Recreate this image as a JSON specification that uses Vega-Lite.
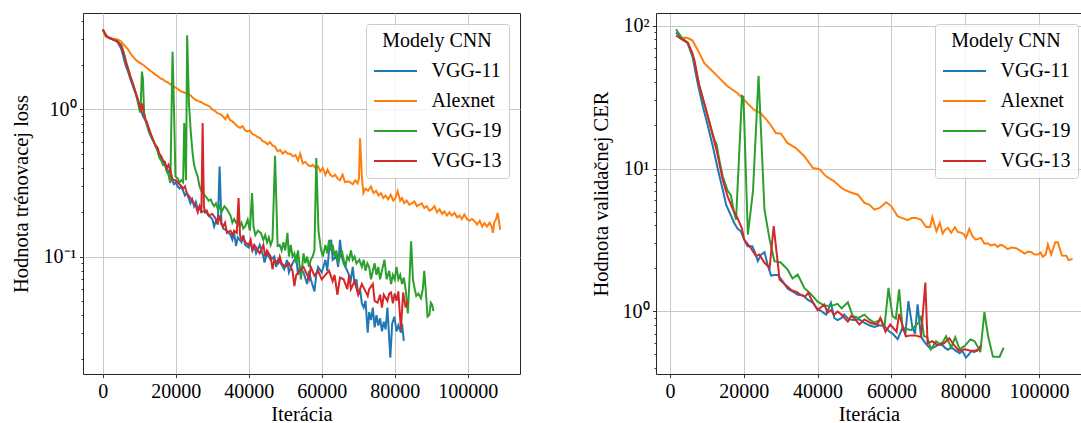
{
"$schema": "https://vega.github.io/schema/vega-lite/v6.json",
"background": "white",
"padding": {"left": 10, "top": 10, "right": 0, "bottom": 0},
"autosize": {"type": "pad"},
"spacing": 136,
"bounds": "flush",
"config": {
  "font": "Liberation Serif",
  "view": {"stroke": "#262626", "strokeWidth": 1},
  "axis": {
    "labelFont": "Liberation Serif", "labelFontSize": 20, "labelColor": "#000000",
    "titleFont": "Liberation Serif", "titleFontSize": 20.5, "titleFontWeight": "normal", "titleColor": "#000000",
    "tickColor": "#000000", "tickWidth": 0.8, "tickSize": 3.5,
    "gridColor": "#c8c8c8", "gridWidth": 1,
    "domainColor": "#262626", "domainWidth": 1,
    "labelPadding": 3.5, "labelFlush": false, "labelOverlap": false
  },
  "legend": {
    "titleFont": "Liberation Serif", "titleFontSize": 20, "titleFontWeight": "normal", "titleColor": "#000000",
    "labelFont": "Liberation Serif", "labelFontSize": 20, "labelColor": "#000000",
    "symbolSize": 400, "symbolStrokeWidth": 2, "symbolOffset": 11.5,
    "labelOffset": 25, "padding": 7, "fillColor": "rgba(255,255,255,0.8)", "strokeColor": "#cccccc", "cornerRadius": 3,
    "titleAnchor": "middle", "rowPadding": 9, "titlePadding": 9
  }
},
"datasets": {
"train": [
{"m":"VGG-11","i":0,"v":3.5},{"m":"VGG-11","i":500,"v":3.3},{"m":"VGG-11","i":1000,"v":3.15},{"m":"VGG-11","i":2000,"v":3.05},{"m":"VGG-11","i":3000,"v":2.97},{"m":"VGG-11","i":4000,"v":2.88},{"m":"VGG-11","i":5000,"v":2.6},{"m":"VGG-11","i":5500,"v":2.35},{"m":"VGG-11","i":6000,"v":2.1},{"m":"VGG-11","i":6500,"v":1.92},{"m":"VGG-11","i":7000,"v":1.78},{"m":"VGG-11","i":7500,"v":1.62},{"m":"VGG-11","i":8000,"v":1.5},{"m":"VGG-11","i":8500,"v":1.38},{"m":"VGG-11","i":9000,"v":1.28},{"m":"VGG-11","i":9500,"v":1.17},{"m":"VGG-11","i":10000,"v":1.06},{"m":"VGG-11","i":10500,"v":0.98},{"m":"VGG-11","i":11000,"v":0.9},{"m":"VGG-11","i":11500,"v":0.86},{"m":"VGG-11","i":12000,"v":0.8},{"m":"VGG-11","i":12500,"v":0.72},{"m":"VGG-11","i":13000,"v":0.67},{"m":"VGG-11","i":13500,"v":0.63},{"m":"VGG-11","i":14000,"v":0.6},{"m":"VGG-11","i":14500,"v":0.56},{"m":"VGG-11","i":15000,"v":0.53},{"m":"VGG-11","i":15500,"v":0.48},{"m":"VGG-11","i":16000,"v":0.46},{"m":"VGG-11","i":16500,"v":0.44},{"m":"VGG-11","i":17000,"v":0.42},{"m":"VGG-11","i":17500,"v":0.4},{"m":"VGG-11","i":18000,"v":0.37},{"m":"VGG-11","i":18500,"v":0.39},{"m":"VGG-11","i":19000,"v":0.33},{"m":"VGG-11","i":19500,"v":0.31},{"m":"VGG-11","i":20000,"v":0.32},{"m":"VGG-11","i":20500,"v":0.3},{"m":"VGG-11","i":21000,"v":0.29},{"m":"VGG-11","i":21500,"v":0.3},{"m":"VGG-11","i":22000,"v":0.28},{"m":"VGG-11","i":22500,"v":0.26},{"m":"VGG-11","i":23000,"v":0.27},{"m":"VGG-11","i":23500,"v":0.25},{"m":"VGG-11","i":24000,"v":0.23},{"m":"VGG-11","i":24500,"v":0.245},{"m":"VGG-11","i":25000,"v":0.22},{"m":"VGG-11","i":25500,"v":0.235},{"m":"VGG-11","i":26000,"v":0.21},{"m":"VGG-11","i":26500,"v":0.22},{"m":"VGG-11","i":27000,"v":0.2},{"m":"VGG-11","i":28000,"v":0.205},{"m":"VGG-11","i":29000,"v":0.19},{"m":"VGG-11","i":30000,"v":0.18},{"m":"VGG-11","i":30500,"v":0.16},{"m":"VGG-11","i":31000,"v":0.175},{"m":"VGG-11","i":31500,"v":0.165},{"m":"VGG-11","i":32000,"v":0.41},{"m":"VGG-11","i":32500,"v":0.17},{"m":"VGG-11","i":33000,"v":0.155},{"m":"VGG-11","i":34000,"v":0.15},{"m":"VGG-11","i":35000,"v":0.14},{"m":"VGG-11","i":35500,"v":0.13},{"m":"VGG-11","i":36000,"v":0.145},{"m":"VGG-11","i":36500,"v":0.118},{"m":"VGG-11","i":37000,"v":0.135},{"m":"VGG-11","i":38000,"v":0.125},{"m":"VGG-11","i":38500,"v":0.14},{"m":"VGG-11","i":39000,"v":0.12},{"m":"VGG-11","i":40000,"v":0.115},{"m":"VGG-11","i":40500,"v":0.125},{"m":"VGG-11","i":41000,"v":0.11},{"m":"VGG-11","i":41500,"v":0.118},{"m":"VGG-11","i":42000,"v":0.105},{"m":"VGG-11","i":43000,"v":0.12},{"m":"VGG-11","i":44000,"v":0.1},{"m":"VGG-11","i":44300,"v":0.091},{"m":"VGG-11","i":45000,"v":0.105},{"m":"VGG-11","i":46000,"v":0.095},{"m":"VGG-11","i":47000,"v":0.1},{"m":"VGG-11","i":47500,"v":0.085},{"m":"VGG-11","i":48000,"v":0.095},{"m":"VGG-11","i":49000,"v":0.088},{"m":"VGG-11","i":49700,"v":0.082},{"m":"VGG-11","i":50500,"v":0.095},{"m":"VGG-11","i":51000,"v":0.078},{"m":"VGG-11","i":52000,"v":0.09},{"m":"VGG-11","i":53000,"v":0.1},{"m":"VGG-11","i":53500,"v":0.075},{"m":"VGG-11","i":54000,"v":0.085},{"m":"VGG-11","i":55000,"v":0.078},{"m":"VGG-11","i":56000,"v":0.065},{"m":"VGG-11","i":56500,"v":0.08},{"m":"VGG-11","i":57000,"v":0.07},{"m":"VGG-11","i":58000,"v":0.058},{"m":"VGG-11","i":58500,"v":0.075},{"m":"VGG-11","i":59000,"v":0.085},{"m":"VGG-11","i":60000,"v":0.078},{"m":"VGG-11","i":61000,"v":0.095},{"m":"VGG-11","i":61500,"v":0.08},{"m":"VGG-11","i":62000,"v":0.11},{"m":"VGG-11","i":62600,"v":0.13},{"m":"VGG-11","i":63000,"v":0.095},{"m":"VGG-11","i":64000,"v":0.1},{"m":"VGG-11","i":64500,"v":0.085},{"m":"VGG-11","i":65000,"v":0.13},{"m":"VGG-11","i":65500,"v":0.1},{"m":"VGG-11","i":66000,"v":0.09},{"m":"VGG-11","i":67000,"v":0.08},{"m":"VGG-11","i":68000,"v":0.07},{"m":"VGG-11","i":68500,"v":0.085},{"m":"VGG-11","i":69000,"v":0.065},{"m":"VGG-11","i":69500,"v":0.07},{"m":"VGG-11","i":70000,"v":0.055},{"m":"VGG-11","i":70500,"v":0.06},{"m":"VGG-11","i":71000,"v":0.048},{"m":"VGG-11","i":71500,"v":0.045},{"m":"VGG-11","i":72000,"v":0.05},{"m":"VGG-11","i":72600,"v":0.0304},{"m":"VGG-11","i":73000,"v":0.042},{"m":"VGG-11","i":73500,"v":0.037},{"m":"VGG-11","i":74000,"v":0.045},{"m":"VGG-11","i":74500,"v":0.033},{"m":"VGG-11","i":75000,"v":0.04},{"m":"VGG-11","i":75500,"v":0.034},{"m":"VGG-11","i":76000,"v":0.038},{"m":"VGG-11","i":76500,"v":0.031},{"m":"VGG-11","i":77000,"v":0.036},{"m":"VGG-11","i":77500,"v":0.032},{"m":"VGG-11","i":78000,"v":0.045},{"m":"VGG-11","i":78800,"v":0.0205},{"m":"VGG-11","i":79300,"v":0.035},{"m":"VGG-11","i":79900,"v":0.039},{"m":"VGG-11","i":80500,"v":0.031},{"m":"VGG-11","i":81000,"v":0.034},{"m":"VGG-11","i":81700,"v":0.0304},{"m":"VGG-11","i":82000,"v":0.035},{"m":"VGG-11","i":82500,"v":0.0267},
{"m":"Alexnet","i":0,"v":3.5},{"m":"Alexnet","i":800,"v":3.13},{"m":"Alexnet","i":2000,"v":3.05},{"m":"Alexnet","i":3000,"v":3.02},{"m":"Alexnet","i":4000,"v":3.0},{"m":"Alexnet","i":5000,"v":2.9},{"m":"Alexnet","i":5500,"v":2.8},{"m":"Alexnet","i":6000,"v":2.7},{"m":"Alexnet","i":6800,"v":2.58},{"m":"Alexnet","i":7500,"v":2.42},{"m":"Alexnet","i":8200,"v":2.3},{"m":"Alexnet","i":9000,"v":2.18},{"m":"Alexnet","i":9800,"v":2.1},{"m":"Alexnet","i":10500,"v":2.05},{"m":"Alexnet","i":11200,"v":2.0},{"m":"Alexnet","i":12000,"v":1.92},{"m":"Alexnet","i":12700,"v":1.86},{"m":"Alexnet","i":13500,"v":1.8},{"m":"Alexnet","i":14200,"v":1.74},{"m":"Alexnet","i":15000,"v":1.69},{"m":"Alexnet","i":15800,"v":1.63},{"m":"Alexnet","i":16500,"v":1.6},{"m":"Alexnet","i":17200,"v":1.55},{"m":"Alexnet","i":18000,"v":1.52},{"m":"Alexnet","i":18700,"v":1.47},{"m":"Alexnet","i":19500,"v":1.43},{"m":"Alexnet","i":20200,"v":1.4},{"m":"Alexnet","i":21000,"v":1.35},{"m":"Alexnet","i":21700,"v":1.32},{"m":"Alexnet","i":22500,"v":1.3},{"m":"Alexnet","i":23200,"v":1.29},{"m":"Alexnet","i":24000,"v":1.25},{"m":"Alexnet","i":24700,"v":1.2},{"m":"Alexnet","i":25500,"v":1.16},{"m":"Alexnet","i":26200,"v":1.14},{"m":"Alexnet","i":27000,"v":1.12},{"m":"Alexnet","i":27700,"v":1.09},{"m":"Alexnet","i":28500,"v":1.07},{"m":"Alexnet","i":29200,"v":1.05},{"m":"Alexnet","i":30000,"v":1.0},{"m":"Alexnet","i":30700,"v":0.98},{"m":"Alexnet","i":31400,"v":0.944},{"m":"Alexnet","i":32200,"v":0.93},{"m":"Alexnet","i":32900,"v":0.9},{"m":"Alexnet","i":33600,"v":0.86},{"m":"Alexnet","i":34200,"v":0.92},{"m":"Alexnet","i":34800,"v":0.85},{"m":"Alexnet","i":35500,"v":0.83},{"m":"Alexnet","i":36200,"v":0.8},{"m":"Alexnet","i":36900,"v":0.767},{"m":"Alexnet","i":37600,"v":0.75},{"m":"Alexnet","i":38300,"v":0.77},{"m":"Alexnet","i":39000,"v":0.72},{"m":"Alexnet","i":39600,"v":0.709},{"m":"Alexnet","i":40300,"v":0.72},{"m":"Alexnet","i":41000,"v":0.68},{"m":"Alexnet","i":41700,"v":0.67},{"m":"Alexnet","i":42400,"v":0.65},{"m":"Alexnet","i":43100,"v":0.64},{"m":"Alexnet","i":43800,"v":0.61},{"m":"Alexnet","i":44500,"v":0.6},{"m":"Alexnet","i":45200,"v":0.58},{"m":"Alexnet","i":45800,"v":0.6},{"m":"Alexnet","i":46500,"v":0.57},{"m":"Alexnet","i":47200,"v":0.56},{"m":"Alexnet","i":47900,"v":0.52},{"m":"Alexnet","i":48600,"v":0.53},{"m":"Alexnet","i":49300,"v":0.5},{"m":"Alexnet","i":50000,"v":0.52},{"m":"Alexnet","i":50700,"v":0.5},{"m":"Alexnet","i":51400,"v":0.5},{"m":"Alexnet","i":52100,"v":0.48},{"m":"Alexnet","i":52800,"v":0.49},{"m":"Alexnet","i":53500,"v":0.45},{"m":"Alexnet","i":54100,"v":0.5},{"m":"Alexnet","i":54800,"v":0.43},{"m":"Alexnet","i":55500,"v":0.44},{"m":"Alexnet","i":56200,"v":0.42},{"m":"Alexnet","i":56900,"v":0.41},{"m":"Alexnet","i":57600,"v":0.42},{"m":"Alexnet","i":58300,"v":0.4},{"m":"Alexnet","i":59000,"v":0.41},{"m":"Alexnet","i":59600,"v":0.38},{"m":"Alexnet","i":60300,"v":0.4},{"m":"Alexnet","i":61000,"v":0.36},{"m":"Alexnet","i":61600,"v":0.39},{"m":"Alexnet","i":62300,"v":0.36},{"m":"Alexnet","i":63000,"v":0.35},{"m":"Alexnet","i":63700,"v":0.36},{"m":"Alexnet","i":64300,"v":0.34},{"m":"Alexnet","i":65000,"v":0.33},{"m":"Alexnet","i":65700,"v":0.36},{"m":"Alexnet","i":66400,"v":0.32},{"m":"Alexnet","i":67100,"v":0.325},{"m":"Alexnet","i":67800,"v":0.32},{"m":"Alexnet","i":68500,"v":0.31},{"m":"Alexnet","i":69200,"v":0.33},{"m":"Alexnet","i":69800,"v":0.315},{"m":"Alexnet","i":70200,"v":0.34},{"m":"Alexnet","i":70500,"v":0.638},{"m":"Alexnet","i":71000,"v":0.35},{"m":"Alexnet","i":71400,"v":0.27},{"m":"Alexnet","i":72000,"v":0.29},{"m":"Alexnet","i":72700,"v":0.28},{"m":"Alexnet","i":73500,"v":0.3},{"m":"Alexnet","i":74200,"v":0.27},{"m":"Alexnet","i":74900,"v":0.28},{"m":"Alexnet","i":75600,"v":0.26},{"m":"Alexnet","i":76200,"v":0.27},{"m":"Alexnet","i":76900,"v":0.25},{"m":"Alexnet","i":77500,"v":0.26},{"m":"Alexnet","i":78200,"v":0.245},{"m":"Alexnet","i":78900,"v":0.263},{"m":"Alexnet","i":79600,"v":0.24},{"m":"Alexnet","i":80200,"v":0.25},{"m":"Alexnet","i":80800,"v":0.278},{"m":"Alexnet","i":81500,"v":0.24},{"m":"Alexnet","i":82000,"v":0.25},{"m":"Alexnet","i":82600,"v":0.231},{"m":"Alexnet","i":83300,"v":0.24},{"m":"Alexnet","i":84000,"v":0.225},{"m":"Alexnet","i":84700,"v":0.23},{"m":"Alexnet","i":85400,"v":0.237},{"m":"Alexnet","i":86100,"v":0.22},{"m":"Alexnet","i":86700,"v":0.225},{"m":"Alexnet","i":87400,"v":0.23},{"m":"Alexnet","i":88100,"v":0.214},{"m":"Alexnet","i":88800,"v":0.22},{"m":"Alexnet","i":89500,"v":0.205},{"m":"Alexnet","i":90200,"v":0.21},{"m":"Alexnet","i":90900,"v":0.22},{"m":"Alexnet","i":91600,"v":0.2},{"m":"Alexnet","i":92300,"v":0.21},{"m":"Alexnet","i":93000,"v":0.195},{"m":"Alexnet","i":93600,"v":0.203},{"m":"Alexnet","i":94300,"v":0.19},{"m":"Alexnet","i":95000,"v":0.2},{"m":"Alexnet","i":95700,"v":0.19},{"m":"Alexnet","i":96400,"v":0.198},{"m":"Alexnet","i":97100,"v":0.185},{"m":"Alexnet","i":97800,"v":0.19},{"m":"Alexnet","i":98400,"v":0.18},{"m":"Alexnet","i":99100,"v":0.193},{"m":"Alexnet","i":99800,"v":0.18},{"m":"Alexnet","i":100500,"v":0.175},{"m":"Alexnet","i":101200,"v":0.18},{"m":"Alexnet","i":101900,"v":0.174},{"m":"Alexnet","i":102600,"v":0.165},{"m":"Alexnet","i":103300,"v":0.175},{"m":"Alexnet","i":104000,"v":0.16},{"m":"Alexnet","i":104600,"v":0.169},{"m":"Alexnet","i":105300,"v":0.16},{"m":"Alexnet","i":106000,"v":0.17},{"m":"Alexnet","i":106600,"v":0.16},{"m":"Alexnet","i":106900,"v":0.145},{"m":"Alexnet","i":107300,"v":0.17},{"m":"Alexnet","i":107800,"v":0.18},{"m":"Alexnet","i":108200,"v":0.198},{"m":"Alexnet","i":108600,"v":0.175},{"m":"Alexnet","i":108900,"v":0.152},
{"m":"VGG-19","i":0,"v":3.5},{"m":"VGG-19","i":1000,"v":3.15},{"m":"VGG-19","i":2000,"v":3.05},{"m":"VGG-19","i":3000,"v":2.98},{"m":"VGG-19","i":4000,"v":2.92},{"m":"VGG-19","i":5000,"v":2.75},{"m":"VGG-19","i":5500,"v":2.55},{"m":"VGG-19","i":6000,"v":2.3},{"m":"VGG-19","i":6500,"v":2.05},{"m":"VGG-19","i":7000,"v":1.88},{"m":"VGG-19","i":7500,"v":1.7},{"m":"VGG-19","i":8000,"v":1.56},{"m":"VGG-19","i":8500,"v":1.43},{"m":"VGG-19","i":9000,"v":1.3},{"m":"VGG-19","i":9500,"v":1.15},{"m":"VGG-19","i":10000,"v":1.0},{"m":"VGG-19","i":10300,"v":0.95},{"m":"VGG-19","i":10700,"v":1.81},{"m":"VGG-19","i":11000,"v":1.6},{"m":"VGG-19","i":11300,"v":0.95},{"m":"VGG-19","i":11700,"v":0.85},{"m":"VGG-19","i":12000,"v":0.8},{"m":"VGG-19","i":12500,"v":0.74},{"m":"VGG-19","i":13000,"v":0.68},{"m":"VGG-19","i":13500,"v":0.64},{"m":"VGG-19","i":14000,"v":0.6},{"m":"VGG-19","i":14500,"v":0.56},{"m":"VGG-19","i":15000,"v":0.52},{"m":"VGG-19","i":15500,"v":0.47},{"m":"VGG-19","i":16000,"v":0.45},{"m":"VGG-19","i":16500,"v":0.42},{"m":"VGG-19","i":17000,"v":0.42},{"m":"VGG-19","i":17500,"v":0.38},{"m":"VGG-19","i":18000,"v":0.36},{"m":"VGG-19","i":18500,"v":0.316},{"m":"VGG-19","i":19100,"v":2.47},{"m":"VGG-19","i":19500,"v":1.0},{"m":"VGG-19","i":19900,"v":0.35},{"m":"VGG-19","i":20500,"v":0.34},{"m":"VGG-19","i":21000,"v":0.32},{"m":"VGG-19","i":21500,"v":0.33},{"m":"VGG-19","i":22000,"v":0.32},{"m":"VGG-19","i":22300,"v":0.81},{"m":"VGG-19","i":22800,"v":0.33},{"m":"VGG-19","i":23100,"v":3.2},{"m":"VGG-19","i":23600,"v":1.1},{"m":"VGG-19","i":24100,"v":0.7},{"m":"VGG-19","i":24600,"v":0.505},{"m":"VGG-19","i":25000,"v":0.42},{"m":"VGG-19","i":25500,"v":0.38},{"m":"VGG-19","i":26000,"v":0.35},{"m":"VGG-19","i":26500,"v":0.3},{"m":"VGG-19","i":27000,"v":0.28},{"m":"VGG-19","i":27500,"v":0.27},{"m":"VGG-19","i":28000,"v":0.26},{"m":"VGG-19","i":28500,"v":0.25},{"m":"VGG-19","i":29000,"v":0.24},{"m":"VGG-19","i":29600,"v":0.244},{"m":"VGG-19","i":30000,"v":0.23},{"m":"VGG-19","i":30500,"v":0.22},{"m":"VGG-19","i":31000,"v":0.23},{"m":"VGG-19","i":31500,"v":0.21},{"m":"VGG-19","i":32000,"v":0.22},{"m":"VGG-19","i":32500,"v":0.2},{"m":"VGG-19","i":33300,"v":0.22},{"m":"VGG-19","i":34000,"v":0.21},{"m":"VGG-19","i":34500,"v":0.2},{"m":"VGG-19","i":35000,"v":0.19},{"m":"VGG-19","i":35500,"v":0.17},{"m":"VGG-19","i":36000,"v":0.18},{"m":"VGG-19","i":36500,"v":0.17},{"m":"VGG-19","i":37000,"v":0.175},{"m":"VGG-19","i":37500,"v":0.16},{"m":"VGG-19","i":38000,"v":0.17},{"m":"VGG-19","i":38500,"v":0.155},{"m":"VGG-19","i":39000,"v":0.16},{"m":"VGG-19","i":39700,"v":0.178},{"m":"VGG-19","i":40300,"v":0.15},{"m":"VGG-19","i":40900,"v":0.27},{"m":"VGG-19","i":41300,"v":0.16},{"m":"VGG-19","i":41800,"v":0.14},{"m":"VGG-19","i":42500,"v":0.15},{"m":"VGG-19","i":43300,"v":0.145},{"m":"VGG-19","i":44000,"v":0.13},{"m":"VGG-19","i":44500,"v":0.14},{"m":"VGG-19","i":45000,"v":0.125},{"m":"VGG-19","i":45500,"v":0.135},{"m":"VGG-19","i":46000,"v":0.12},{"m":"VGG-19","i":46500,"v":0.13},{"m":"VGG-19","i":47200,"v":0.485},{"m":"VGG-19","i":47900,"v":0.118},{"m":"VGG-19","i":48500,"v":0.12},{"m":"VGG-19","i":49000,"v":0.11},{"m":"VGG-19","i":49500,"v":0.125},{"m":"VGG-19","i":50000,"v":0.11},{"m":"VGG-19","i":50600,"v":0.145},{"m":"VGG-19","i":51000,"v":0.1},{"m":"VGG-19","i":51500,"v":0.12},{"m":"VGG-19","i":52000,"v":0.1},{"m":"VGG-19","i":52500,"v":0.105},{"m":"VGG-19","i":53000,"v":0.09},{"m":"VGG-19","i":53500,"v":0.11},{"m":"VGG-19","i":54300,"v":0.07},{"m":"VGG-19","i":55000,"v":0.105},{"m":"VGG-19","i":55500,"v":0.09},{"m":"VGG-19","i":56000,"v":0.1},{"m":"VGG-19","i":56500,"v":0.085},{"m":"VGG-19","i":57000,"v":0.095},{"m":"VGG-19","i":57500,"v":0.1},{"m":"VGG-19","i":58000,"v":0.11},{"m":"VGG-19","i":58500,"v":0.467},{"m":"VGG-19","i":59100,"v":0.15},{"m":"VGG-19","i":59800,"v":0.111},{"m":"VGG-19","i":60300,"v":0.1},{"m":"VGG-19","i":61000,"v":0.12},{"m":"VGG-19","i":61500,"v":0.105},{"m":"VGG-19","i":62000,"v":0.13},{"m":"VGG-19","i":62500,"v":0.11},{"m":"VGG-19","i":63000,"v":0.12},{"m":"VGG-19","i":63500,"v":0.1},{"m":"VGG-19","i":64000,"v":0.11},{"m":"VGG-19","i":64500,"v":0.09},{"m":"VGG-19","i":65000,"v":0.1},{"m":"VGG-19","i":65500,"v":0.11},{"m":"VGG-19","i":66000,"v":0.095},{"m":"VGG-19","i":66500,"v":0.085},{"m":"VGG-19","i":67000,"v":0.1},{"m":"VGG-19","i":67500,"v":0.095},{"m":"VGG-19","i":68000,"v":0.11},{"m":"VGG-19","i":68500,"v":0.095},{"m":"VGG-19","i":69000,"v":0.1},{"m":"VGG-19","i":69500,"v":0.09},{"m":"VGG-19","i":70300,"v":0.095},{"m":"VGG-19","i":71000,"v":0.085},{"m":"VGG-19","i":71500,"v":0.095},{"m":"VGG-19","i":72000,"v":0.08},{"m":"VGG-19","i":72500,"v":0.09},{"m":"VGG-19","i":73000,"v":0.085},{"m":"VGG-19","i":73500,"v":0.07},{"m":"VGG-19","i":74000,"v":0.08},{"m":"VGG-19","i":74500,"v":0.09},{"m":"VGG-19","i":75000,"v":0.075},{"m":"VGG-19","i":75500,"v":0.085},{"m":"VGG-19","i":76000,"v":0.07},{"m":"VGG-19","i":76500,"v":0.08},{"m":"VGG-19","i":77200,"v":0.095},{"m":"VGG-19","i":77800,"v":0.07},{"m":"VGG-19","i":78500,"v":0.08},{"m":"VGG-19","i":79000,"v":0.065},{"m":"VGG-19","i":79500,"v":0.075},{"m":"VGG-19","i":80000,"v":0.07},{"m":"VGG-19","i":80500,"v":0.085},{"m":"VGG-19","i":81000,"v":0.07},{"m":"VGG-19","i":81500,"v":0.075},{"m":"VGG-19","i":82000,"v":0.065},{"m":"VGG-19","i":82500,"v":0.072},{"m":"VGG-19","i":83000,"v":0.06},{"m":"VGG-19","i":83600,"v":0.041},{"m":"VGG-19","i":84000,"v":0.065},{"m":"VGG-19","i":84500,"v":0.127},{"m":"VGG-19","i":85000,"v":0.07},{"m":"VGG-19","i":85500,"v":0.06},{"m":"VGG-19","i":85900,"v":0.054},{"m":"VGG-19","i":86500,"v":0.056},{"m":"VGG-19","i":87200,"v":0.052},{"m":"VGG-19","i":87700,"v":0.06},{"m":"VGG-19","i":88100,"v":0.08},{"m":"VGG-19","i":88600,"v":0.055},{"m":"VGG-19","i":89000,"v":0.039},{"m":"VGG-19","i":89500,"v":0.04},{"m":"VGG-19","i":89900,"v":0.0485},{"m":"VGG-19","i":90300,"v":0.047},{"m":"VGG-19","i":90600,"v":0.0426},
{"m":"VGG-13","i":0,"v":3.5},{"m":"VGG-13","i":500,"v":3.3},{"m":"VGG-13","i":1000,"v":3.15},{"m":"VGG-13","i":2000,"v":3.05},{"m":"VGG-13","i":3000,"v":2.98},{"m":"VGG-13","i":4000,"v":2.9},{"m":"VGG-13","i":5000,"v":2.72},{"m":"VGG-13","i":5500,"v":2.5},{"m":"VGG-13","i":6000,"v":2.25},{"m":"VGG-13","i":6500,"v":2.02},{"m":"VGG-13","i":7000,"v":1.85},{"m":"VGG-13","i":7500,"v":1.68},{"m":"VGG-13","i":8000,"v":1.55},{"m":"VGG-13","i":8500,"v":1.42},{"m":"VGG-13","i":9000,"v":1.3},{"m":"VGG-13","i":9500,"v":1.2},{"m":"VGG-13","i":10000,"v":1.08},{"m":"VGG-13","i":10500,"v":1.0},{"m":"VGG-13","i":10800,"v":1.1},{"m":"VGG-13","i":11200,"v":0.95},{"m":"VGG-13","i":11700,"v":0.85},{"m":"VGG-13","i":12000,"v":0.83},{"m":"VGG-13","i":12500,"v":0.76},{"m":"VGG-13","i":13000,"v":0.7},{"m":"VGG-13","i":13500,"v":0.65},{"m":"VGG-13","i":14000,"v":0.6},{"m":"VGG-13","i":14500,"v":0.57},{"m":"VGG-13","i":15000,"v":0.55},{"m":"VGG-13","i":15500,"v":0.5},{"m":"VGG-13","i":16000,"v":0.48},{"m":"VGG-13","i":16500,"v":0.45},{"m":"VGG-13","i":17000,"v":0.44},{"m":"VGG-13","i":17500,"v":0.4},{"m":"VGG-13","i":18000,"v":0.42},{"m":"VGG-13","i":18500,"v":0.38},{"m":"VGG-13","i":19000,"v":0.34},{"m":"VGG-13","i":19500,"v":0.33},{"m":"VGG-13","i":20000,"v":0.33},{"m":"VGG-13","i":20500,"v":0.32},{"m":"VGG-13","i":21000,"v":0.31},{"m":"VGG-13","i":21500,"v":0.3},{"m":"VGG-13","i":22000,"v":0.29},{"m":"VGG-13","i":22500,"v":0.3},{"m":"VGG-13","i":23000,"v":0.27},{"m":"VGG-13","i":23500,"v":0.26},{"m":"VGG-13","i":24000,"v":0.25},{"m":"VGG-13","i":24500,"v":0.24},{"m":"VGG-13","i":25000,"v":0.23},{"m":"VGG-13","i":25500,"v":0.22},{"m":"VGG-13","i":26000,"v":0.2},{"m":"VGG-13","i":26500,"v":0.22},{"m":"VGG-13","i":27000,"v":0.2},{"m":"VGG-13","i":27350,"v":0.81},{"m":"VGG-13","i":27700,"v":0.22},{"m":"VGG-13","i":28000,"v":0.2},{"m":"VGG-13","i":28500,"v":0.205},{"m":"VGG-13","i":29000,"v":0.19},{"m":"VGG-13","i":30000,"v":0.195},{"m":"VGG-13","i":31000,"v":0.18},{"m":"VGG-13","i":31500,"v":0.17},{"m":"VGG-13","i":32000,"v":0.19},{"m":"VGG-13","i":32500,"v":0.165},{"m":"VGG-13","i":33000,"v":0.16},{"m":"VGG-13","i":33500,"v":0.17},{"m":"VGG-13","i":34000,"v":0.145},{"m":"VGG-13","i":35000,"v":0.15},{"m":"VGG-13","i":35500,"v":0.14},{"m":"VGG-13","i":36000,"v":0.15},{"m":"VGG-13","i":36700,"v":0.145},{"m":"VGG-13","i":37200,"v":0.25},{"m":"VGG-13","i":37600,"v":0.14},{"m":"VGG-13","i":38000,"v":0.13},{"m":"VGG-13","i":38500,"v":0.135},{"m":"VGG-13","i":39000,"v":0.125},{"m":"VGG-13","i":40000,"v":0.12},{"m":"VGG-13","i":40500,"v":0.13},{"m":"VGG-13","i":41000,"v":0.111},{"m":"VGG-13","i":41500,"v":0.12},{"m":"VGG-13","i":42000,"v":0.115},{"m":"VGG-13","i":43000,"v":0.105},{"m":"VGG-13","i":44000,"v":0.12},{"m":"VGG-13","i":44500,"v":0.1},{"m":"VGG-13","i":45000,"v":0.11},{"m":"VGG-13","i":46000,"v":0.1},{"m":"VGG-13","i":46500,"v":0.082},{"m":"VGG-13","i":47000,"v":0.095},{"m":"VGG-13","i":48000,"v":0.09},{"m":"VGG-13","i":48500,"v":0.1},{"m":"VGG-13","i":49000,"v":0.09},{"m":"VGG-13","i":50000,"v":0.085},{"m":"VGG-13","i":51000,"v":0.09},{"m":"VGG-13","i":52000,"v":0.08},{"m":"VGG-13","i":52500,"v":0.063},{"m":"VGG-13","i":53000,"v":0.075},{"m":"VGG-13","i":54000,"v":0.08},{"m":"VGG-13","i":55000,"v":0.085},{"m":"VGG-13","i":56000,"v":0.075},{"m":"VGG-13","i":56500,"v":0.07},{"m":"VGG-13","i":57000,"v":0.085},{"m":"VGG-13","i":58000,"v":0.074},{"m":"VGG-13","i":59000,"v":0.08},{"m":"VGG-13","i":60000,"v":0.07},{"m":"VGG-13","i":61000,"v":0.075},{"m":"VGG-13","i":62000,"v":0.08},{"m":"VGG-13","i":63000,"v":0.068},{"m":"VGG-13","i":63500,"v":0.075},{"m":"VGG-13","i":64300,"v":0.055},{"m":"VGG-13","i":65000,"v":0.072},{"m":"VGG-13","i":66000,"v":0.07},{"m":"VGG-13","i":67000,"v":0.06},{"m":"VGG-13","i":67500,"v":0.075},{"m":"VGG-13","i":68000,"v":0.06},{"m":"VGG-13","i":69000,"v":0.068},{"m":"VGG-13","i":70000,"v":0.055},{"m":"VGG-13","i":70500,"v":0.06},{"m":"VGG-13","i":71000,"v":0.065},{"m":"VGG-13","i":72000,"v":0.058},{"m":"VGG-13","i":72600,"v":0.054},{"m":"VGG-13","i":73000,"v":0.06},{"m":"VGG-13","i":74000,"v":0.065},{"m":"VGG-13","i":74500,"v":0.05},{"m":"VGG-13","i":75300,"v":0.0485},{"m":"VGG-13","i":76000,"v":0.055},{"m":"VGG-13","i":76500,"v":0.045},{"m":"VGG-13","i":77000,"v":0.055},{"m":"VGG-13","i":78000,"v":0.05},{"m":"VGG-13","i":78500,"v":0.056},{"m":"VGG-13","i":79000,"v":0.057},{"m":"VGG-13","i":79500,"v":0.048},{"m":"VGG-13","i":80000,"v":0.056},{"m":"VGG-13","i":80500,"v":0.05},{"m":"VGG-13","i":81000,"v":0.058},{"m":"VGG-13","i":81700,"v":0.032},{"m":"VGG-13","i":82300,"v":0.057},{"m":"VGG-13","i":83000,"v":0.045},{"m":"VGG-13","i":83600,"v":0.05}
],
"val": [
{"m":"VGG-11","i":1630,"v":89.4},{"m":"VGG-11","i":3200,"v":82},{"m":"VGG-11","i":4800,"v":75.2},{"m":"VGG-11","i":6100,"v":60.7},{"m":"VGG-11","i":7500,"v":39.5},{"m":"VGG-11","i":8900,"v":27.2},{"m":"VGG-11","i":10300,"v":19.7},{"m":"VGG-11","i":11600,"v":14.3},{"m":"VGG-11","i":13000,"v":9.81},{"m":"VGG-11","i":14300,"v":7.11},{"m":"VGG-11","i":15200,"v":5.59},{"m":"VGG-11","i":16500,"v":4.7},{"m":"VGG-11","i":17400,"v":4.16},{"m":"VGG-11","i":18300,"v":3.8},{"m":"VGG-11","i":19200,"v":3.64},{"m":"VGG-11","i":20100,"v":3.2},{"m":"VGG-11","i":21000,"v":2.86},{"m":"VGG-11","i":22300,"v":2.86},{"m":"VGG-11","i":23000,"v":2.6},{"m":"VGG-11","i":23800,"v":2.25},{"m":"VGG-11","i":24700,"v":2.5},{"m":"VGG-11","i":25600,"v":2.6},{"m":"VGG-11","i":26500,"v":2.1},{"m":"VGG-11","i":27400,"v":1.78},{"m":"VGG-11","i":28300,"v":1.8},{"m":"VGG-11","i":29200,"v":1.8},{"m":"VGG-11","i":30500,"v":1.63},{"m":"VGG-11","i":31900,"v":1.44},{"m":"VGG-11","i":33200,"v":1.38},{"m":"VGG-11","i":34600,"v":1.31},{"m":"VGG-11","i":36000,"v":1.3},{"m":"VGG-11","i":37300,"v":1.21},{"m":"VGG-11","i":38700,"v":1.15},{"m":"VGG-11","i":40000,"v":1.04},{"m":"VGG-11","i":41100,"v":1.0},{"m":"VGG-11","i":42300,"v":0.95},{"m":"VGG-11","i":43600,"v":1.15},{"m":"VGG-11","i":44500,"v":0.9},{"m":"VGG-11","i":45400,"v":0.87},{"m":"VGG-11","i":46500,"v":0.9},{"m":"VGG-11","i":47200,"v":0.95},{"m":"VGG-11","i":48500,"v":0.88},{"m":"VGG-11","i":49900,"v":0.87},{"m":"VGG-11","i":51300,"v":0.88},{"m":"VGG-11","i":52700,"v":0.83},{"m":"VGG-11","i":54000,"v":0.8},{"m":"VGG-11","i":55400,"v":0.78},{"m":"VGG-11","i":56800,"v":0.8},{"m":"VGG-11","i":58100,"v":0.79},{"m":"VGG-11","i":59500,"v":0.72},{"m":"VGG-11","i":60300,"v":0.7},{"m":"VGG-11","i":61700,"v":0.64},{"m":"VGG-11","i":63000,"v":0.77},{"m":"VGG-11","i":63800,"v":0.7},{"m":"VGG-11","i":64600,"v":1.18},{"m":"VGG-11","i":65700,"v":0.77},{"m":"VGG-11","i":66400,"v":0.7},{"m":"VGG-11","i":67100,"v":1.12},{"m":"VGG-11","i":68000,"v":0.67},{"m":"VGG-11","i":68800,"v":0.62},{"m":"VGG-11","i":69700,"v":0.58},{"m":"VGG-11","i":70600,"v":0.55},{"m":"VGG-11","i":71500,"v":0.56},{"m":"VGG-11","i":72500,"v":0.58},{"m":"VGG-11","i":73500,"v":0.6},{"m":"VGG-11","i":74400,"v":0.56},{"m":"VGG-11","i":75300,"v":0.54},{"m":"VGG-11","i":76300,"v":0.56},{"m":"VGG-11","i":77500,"v":0.53},{"m":"VGG-11","i":78500,"v":0.51},{"m":"VGG-11","i":79200,"v":0.53},{"m":"VGG-11","i":80200,"v":0.475},{"m":"VGG-11","i":81000,"v":0.5},{"m":"VGG-11","i":81600,"v":0.53},{"m":"VGG-11","i":82500,"v":0.52},{"m":"VGG-11","i":83300,"v":0.543},
{"m":"Alexnet","i":3400,"v":81.5},{"m":"Alexnet","i":4000,"v":82.6},{"m":"Alexnet","i":5000,"v":81.5},{"m":"Alexnet","i":6100,"v":78.6},{"m":"Alexnet","i":7500,"v":67.6},{"m":"Alexnet","i":9300,"v":54.6},{"m":"Alexnet","i":11600,"v":47.7},{"m":"Alexnet","i":13400,"v":42.9},{"m":"Alexnet","i":15500,"v":37.8},{"m":"Alexnet","i":18300,"v":33.6},{"m":"Alexnet","i":20100,"v":30.2},{"m":"Alexnet","i":22800,"v":25.7},{"m":"Alexnet","i":24600,"v":24.4},{"m":"Alexnet","i":26900,"v":20.8},{"m":"Alexnet","i":28700,"v":17.7},{"m":"Alexnet","i":30100,"v":17.5},{"m":"Alexnet","i":31800,"v":15.1},{"m":"Alexnet","i":34100,"v":13.9},{"m":"Alexnet","i":36400,"v":12.2},{"m":"Alexnet","i":38700,"v":10.1},{"m":"Alexnet","i":40500,"v":9.9},{"m":"Alexnet","i":42300,"v":8.82},{"m":"Alexnet","i":44500,"v":8.13},{"m":"Alexnet","i":46200,"v":7.43},{"m":"Alexnet","i":47200,"v":7.11},{"m":"Alexnet","i":49000,"v":6.8},{"m":"Alexnet","i":50900,"v":6.56},{"m":"Alexnet","i":52700,"v":5.74},{"m":"Alexnet","i":54000,"v":5.6},{"m":"Alexnet","i":55400,"v":5.15},{"m":"Alexnet","i":56800,"v":5.3},{"m":"Alexnet","i":58600,"v":5.81},{"m":"Alexnet","i":60000,"v":5.44},{"m":"Alexnet","i":61700,"v":4.63},{"m":"Alexnet","i":63000,"v":4.5},{"m":"Alexnet","i":64400,"v":4.35},{"m":"Alexnet","i":65500,"v":4.5},{"m":"Alexnet","i":66700,"v":4.51},{"m":"Alexnet","i":68000,"v":4.4},{"m":"Alexnet","i":69400,"v":3.9},{"m":"Alexnet","i":70500,"v":3.9},{"m":"Alexnet","i":71100,"v":4.56},{"m":"Alexnet","i":72200,"v":3.64},{"m":"Alexnet","i":73100,"v":4.16},{"m":"Alexnet","i":73900,"v":3.51},{"m":"Alexnet","i":74600,"v":3.75},{"m":"Alexnet","i":75300,"v":3.84},{"m":"Alexnet","i":76200,"v":3.55},{"m":"Alexnet","i":77200,"v":3.88},{"m":"Alexnet","i":78000,"v":3.6},{"m":"Alexnet","i":78900,"v":3.55},{"m":"Alexnet","i":79500,"v":3.5},{"m":"Alexnet","i":80200,"v":3.27},{"m":"Alexnet","i":81100,"v":3.78},{"m":"Alexnet","i":82000,"v":3.35},{"m":"Alexnet","i":82900,"v":3.18},{"m":"Alexnet","i":84300,"v":3.27},{"m":"Alexnet","i":85200,"v":2.98},{"m":"Alexnet","i":86000,"v":3.0},{"m":"Alexnet","i":87000,"v":2.9},{"m":"Alexnet","i":88000,"v":2.95},{"m":"Alexnet","i":88800,"v":2.83},{"m":"Alexnet","i":89500,"v":2.92},{"m":"Alexnet","i":90200,"v":2.9},{"m":"Alexnet","i":91500,"v":2.73},{"m":"Alexnet","i":92500,"v":2.8},{"m":"Alexnet","i":93800,"v":2.77},{"m":"Alexnet","i":95000,"v":2.65},{"m":"Alexnet","i":96100,"v":2.54},{"m":"Alexnet","i":97000,"v":2.62},{"m":"Alexnet","i":97900,"v":2.6},{"m":"Alexnet","i":98800,"v":2.5},{"m":"Alexnet","i":99700,"v":2.5},{"m":"Alexnet","i":100400,"v":2.58},{"m":"Alexnet","i":101000,"v":2.41},{"m":"Alexnet","i":101800,"v":2.5},{"m":"Alexnet","i":102400,"v":2.94},{"m":"Alexnet","i":103300,"v":2.5},{"m":"Alexnet","i":104400,"v":3.05},{"m":"Alexnet","i":105100,"v":3.05},{"m":"Alexnet","i":106200,"v":2.46},{"m":"Alexnet","i":107400,"v":2.45},{"m":"Alexnet","i":108000,"v":2.29},{"m":"Alexnet","i":109100,"v":2.33},
{"m":"VGG-19","i":1630,"v":94.2},{"m":"VGG-19","i":3200,"v":82},{"m":"VGG-19","i":4800,"v":76},{"m":"VGG-19","i":6000,"v":63},{"m":"VGG-19","i":6600,"v":56},{"m":"VGG-19","i":7900,"v":38},{"m":"VGG-19","i":9800,"v":25.5},{"m":"VGG-19","i":11200,"v":18.8},{"m":"VGG-19","i":12000,"v":16},{"m":"VGG-19","i":12600,"v":14.8},{"m":"VGG-19","i":13500,"v":11},{"m":"VGG-19","i":14300,"v":8.8},{"m":"VGG-19","i":15600,"v":7},{"m":"VGG-19","i":16500,"v":6.5},{"m":"VGG-19","i":17300,"v":5},{"m":"VGG-19","i":17900,"v":4.39},{"m":"VGG-19","i":19500,"v":32.2},{"m":"VGG-19","i":19900,"v":31.7},{"m":"VGG-19","i":21100,"v":3.45},{"m":"VGG-19","i":22500,"v":7},{"m":"VGG-19","i":24000,"v":44.5},{"m":"VGG-19","i":25600,"v":5.15},{"m":"VGG-19","i":27000,"v":3.18},{"m":"VGG-19","i":28300,"v":2.25},{"m":"VGG-19","i":30000,"v":2.2},{"m":"VGG-19","i":31900,"v":1.96},{"m":"VGG-19","i":33200,"v":1.7},{"m":"VGG-19","i":34600,"v":1.81},{"m":"VGG-19","i":36400,"v":1.46},{"m":"VGG-19","i":38200,"v":1.32},{"m":"VGG-19","i":40000,"v":1.17},{"m":"VGG-19","i":41800,"v":1.1},{"m":"VGG-19","i":43600,"v":1.09},{"m":"VGG-19","i":45400,"v":1.13},{"m":"VGG-19","i":46500,"v":1.05},{"m":"VGG-19","i":48200,"v":1.16},{"m":"VGG-19","i":49500,"v":0.93},{"m":"VGG-19","i":51000,"v":0.9},{"m":"VGG-19","i":52700,"v":0.95},{"m":"VGG-19","i":54000,"v":0.88},{"m":"VGG-19","i":55400,"v":0.834},{"m":"VGG-19","i":57200,"v":0.88},{"m":"VGG-19","i":58100,"v":0.77},{"m":"VGG-19","i":59200,"v":1.46},{"m":"VGG-19","i":60300,"v":0.93},{"m":"VGG-19","i":61200,"v":0.89},{"m":"VGG-19","i":62100,"v":1.43},{"m":"VGG-19","i":63000,"v":0.77},{"m":"VGG-19","i":65300,"v":0.74},{"m":"VGG-19","i":67500,"v":0.84},{"m":"VGG-19","i":68100,"v":0.93},{"m":"VGG-19","i":68800,"v":0.673},{"m":"VGG-19","i":69700,"v":0.66},{"m":"VGG-19","i":70700,"v":0.543},{"m":"VGG-19","i":72100,"v":0.62},{"m":"VGG-19","i":73500,"v":0.58},{"m":"VGG-19","i":74800,"v":0.67},{"m":"VGG-19","i":76200,"v":0.56},{"m":"VGG-19","i":77300,"v":0.66},{"m":"VGG-19","i":78500,"v":0.543},{"m":"VGG-19","i":79900,"v":0.575},{"m":"VGG-19","i":81400,"v":0.637},{"m":"VGG-19","i":82500,"v":0.62},{"m":"VGG-19","i":83800,"v":0.543},{"m":"VGG-19","i":84100,"v":0.52},{"m":"VGG-19","i":85200,"v":0.99},{"m":"VGG-19","i":86200,"v":0.673},{"m":"VGG-19","i":87500,"v":0.483},{"m":"VGG-19","i":89300,"v":0.48},{"m":"VGG-19","i":90400,"v":0.557},
{"m":"VGG-13","i":1630,"v":85.2},{"m":"VGG-13","i":3200,"v":80},{"m":"VGG-13","i":4800,"v":75.9},{"m":"VGG-13","i":6000,"v":65},{"m":"VGG-13","i":6600,"v":57.5},{"m":"VGG-13","i":7900,"v":38.5},{"m":"VGG-13","i":9800,"v":25.7},{"m":"VGG-13","i":11200,"v":18.7},{"m":"VGG-13","i":12600,"v":13.5},{"m":"VGG-13","i":14300,"v":8.35},{"m":"VGG-13","i":15600,"v":6.4},{"m":"VGG-13","i":17000,"v":5.2},{"m":"VGG-13","i":18300,"v":4.5},{"m":"VGG-13","i":19500,"v":3.8},{"m":"VGG-13","i":20100,"v":3.18},{"m":"VGG-13","i":21900,"v":2.78},{"m":"VGG-13","i":23300,"v":2.44},{"m":"VGG-13","i":24200,"v":2.5},{"m":"VGG-13","i":25600,"v":2.19},{"m":"VGG-13","i":27000,"v":2.02},{"m":"VGG-13","i":28100,"v":3.95},{"m":"VGG-13","i":29700,"v":1.67},{"m":"VGG-13","i":31100,"v":1.55},{"m":"VGG-13","i":32900,"v":1.41},{"m":"VGG-13","i":34300,"v":1.37},{"m":"VGG-13","i":35500,"v":1.3},{"m":"VGG-13","i":36600,"v":1.27},{"m":"VGG-13","i":37500,"v":1.35},{"m":"VGG-13","i":38400,"v":1.2},{"m":"VGG-13","i":40000,"v":1.02},{"m":"VGG-13","i":41800,"v":1.12},{"m":"VGG-13","i":42700,"v":0.98},{"m":"VGG-13","i":43600,"v":1.02},{"m":"VGG-13","i":44500,"v":0.95},{"m":"VGG-13","i":45400,"v":1.0},{"m":"VGG-13","i":46300,"v":0.96},{"m":"VGG-13","i":47300,"v":0.9},{"m":"VGG-13","i":48200,"v":0.85},{"m":"VGG-13","i":49100,"v":0.93},{"m":"VGG-13","i":49900,"v":0.9},{"m":"VGG-13","i":51300,"v":0.81},{"m":"VGG-13","i":52700,"v":0.88},{"m":"VGG-13","i":54400,"v":0.83},{"m":"VGG-13","i":56200,"v":0.81},{"m":"VGG-13","i":57000,"v":0.9},{"m":"VGG-13","i":58400,"v":0.72},{"m":"VGG-13","i":59700,"v":0.81},{"m":"VGG-13","i":61400,"v":0.72},{"m":"VGG-13","i":62100,"v":0.96},{"m":"VGG-13","i":63900,"v":0.67},{"m":"VGG-13","i":65300,"v":0.68},{"m":"VGG-13","i":66500,"v":0.68},{"m":"VGG-13","i":68000,"v":0.66},{"m":"VGG-13","i":69200,"v":1.59},{"m":"VGG-13","i":69800,"v":0.6},{"m":"VGG-13","i":71100,"v":0.62},{"m":"VGG-13","i":72500,"v":0.58},{"m":"VGG-13","i":74300,"v":0.6},{"m":"VGG-13","i":75700,"v":0.65},{"m":"VGG-13","i":77000,"v":0.58},{"m":"VGG-13","i":78300,"v":0.53},{"m":"VGG-13","i":79900,"v":0.543},{"m":"VGG-13","i":81600,"v":0.53},{"m":"VGG-13","i":83300,"v":0.53},{"m":"VGG-13","i":84300,"v":0.58}
]
},
"resolve": {"legend": {"color": "independent"}},
"hconcat": [
{
  "width": 437, "height": 361,
  "data": {"name": "train"},
  "mark": {"type": "line", "strokeWidth": 2, "clip": true},
  "encoding": {
    "x": {"field": "i", "type": "quantitative",
      "scale": {"domain": [-5445, 114345], "nice": false, "zero": false},
      "axis": {"title": "Iterácia", "values": [0, 20000, 40000, 60000, 80000, 100000], "format": "d", "domain": false, "labelPadding": 4, "titlePadding": 3}},
    "y": {"field": "v", "type": "quantitative",
      "scale": {"type": "log", "domain": [0.0159, 4.53], "nice": false},
      "axis": {"title": "Hodnota trénovacej loss", "domain": false, "titlePadding": 12,
        "values": [0.02, 0.03, 0.04, 0.05, 0.06, 0.07, 0.08, 0.09, 0.1, 0.2, 0.3, 0.4, 0.5, 0.6, 0.7, 0.8, 0.9, 1, 2, 3, 4],
        "labelExpr": "datum.value == 1 ? '10⁰' : (datum.value == 0.1 ? '10⁻¹' : '')",
        "tickSize": {"condition": {"test": "datum.value == 1 || datum.value == 0.1", "value": 3.5}, "value": 2},
        "gridOpacity": {"condition": {"test": "datum.value == 1 || datum.value == 0.1", "value": 1}, "value": 0}}},
    "color": {"field": "m", "type": "nominal",
      "scale": {"domain": ["VGG-11", "Alexnet", "VGG-19", "VGG-13"], "range": ["#1f77b4", "#ff7f0e", "#2ca02c", "#d62728"]},
      "legend": {"title": "Modely CNN", "orient": "top-right", "offset": 11, "symbolType": "M-2.15,0H2.15"}}
  }
},
{
  "width": 426, "height": 361,
  "view": {"stroke": null},
  "data": {"name": "val"},
  "layer": [
    {
      "mark": {"type": "line", "strokeWidth": 2, "clip": true},
      "encoding": {
        "x": {"field": "i", "type": "quantitative",
          "scale": {"domain": [-3794, 111650], "nice": false, "zero": false},
          "axis": {"title": "Iterácia", "values": [0, 20000, 40000, 60000, 80000, 100000], "format": "d", "domain": true, "labelPadding": 4, "titlePadding": 3}},
        "y": {"field": "v", "type": "quantitative",
          "scale": {"type": "log", "domain": [0.365, 122.5], "nice": false},
          "axis": {"title": "Hodnota validačnej CER", "domain": true, "titlePadding": 11,
            "values": [0.4, 0.5, 0.6, 0.7, 0.8, 0.9, 1, 2, 3, 4, 5, 6, 7, 8, 9, 10, 20, 30, 40, 50, 60, 70, 80, 90, 100],
            "labelExpr": "datum.value == 1 ? '10⁰' : (datum.value == 10 ? '10¹' : (datum.value == 100 ? '10²' : ''))",
            "tickSize": {"condition": {"test": "datum.value == 1 || datum.value == 10 || datum.value == 100", "value": 3.5}, "value": 2},
            "gridOpacity": {"condition": {"test": "datum.value == 1 || datum.value == 10 || datum.value == 100", "value": 1}, "value": 0}}},
        "color": {"field": "m", "type": "nominal",
          "scale": {"domain": ["VGG-11", "Alexnet", "VGG-19", "VGG-13"], "range": ["#1f77b4", "#ff7f0e", "#2ca02c", "#d62728"]},
          "legend": {"title": "Modely CNN", "orient": "none", "legendX": 279, "legendY": 11, "symbolType": "M-2.15,0H2.15"}}
      }
    },
    {
      "mark": {"type": "line", "opacity": 0},
      "encoding": {
        "x": {"field": "i", "type": "quantitative",
          "axis": {"orient": "top", "labels": false, "ticks": false, "grid": false, "domain": true, "title": null}},
        "y": {"field": "v", "type": "quantitative"}
      }
    }
  ],
  "resolve": {"axis": {"x": "independent"}}
}
]
}
